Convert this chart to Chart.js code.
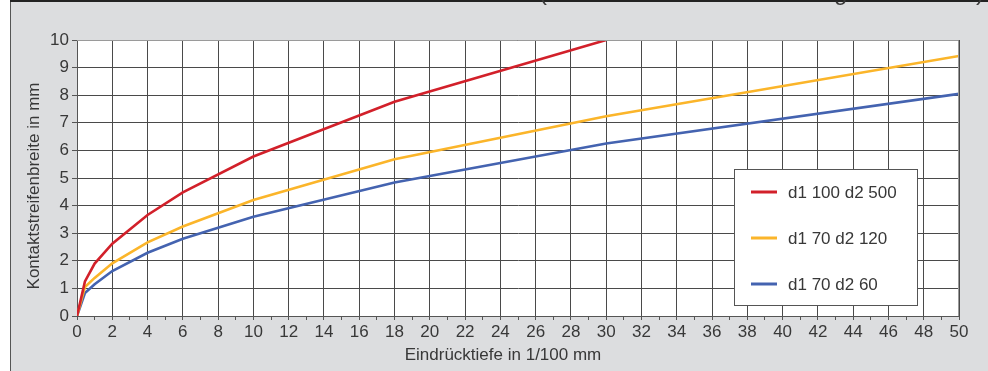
<!DOCTYPE html>
<html lang="de">
<head>
<meta charset="UTF-8">
<title>Kontaktstreifenbreite</title>
<script src="https://cdn.jsdelivr.net/npm/chart.js"></script>
<style>
  html, body { margin: 0; padding: 0; background: #fff; }
  #wrap { width: 988px; height: 371px; }
</style>
</head>
<body>
<div id="wrap"><canvas id="chart" width="988" height="371"></canvas></div>
<script>
// Werte
const depth = [0, 0.45, 1, 2, 4, 6, 10, 18, 30, 50];
const widthD100D500 = [0, 1.25, 1.9, 2.62, 3.66, 4.48, 5.78, 7.76, 10.0, null];
const widthD70D120 = [0, 1.05, 1.38, 1.91, 2.67, 3.24, 4.2, 5.68, 7.24, 9.42];
const widthD70D60 = [0, 0.83, 1.15, 1.63, 2.29, 2.8, 3.6, 4.84, 6.25, 8.05];
const seriesNames = ["d1 100 d2 500", "d1 70 d2 120", "d1 70 d2 60"];
const seriesColors = ["#d2202a", "#fbb52a", "#4463b0"];
const xTitle = "Eindrücktiefe in 1/100 mm";
const yTitle = "Kontaktstreifenbreite in mm";

const textColor = "#383838";
const font = "'Liberation Sans', Arial, sans-serif";

function punkte(werte) {
    return depth.map((x, i) => ({ x: x, y: werte[i] }));
}

// Hintergrund, Rahmen, Achsentitel und Legende selbst zeichnen
const rahmenPlugin = {
    id: "rahmen",
    beforeDraw(chart) {
        const c = chart.ctx;
        const a = chart.chartArea;
        c.save();
        c.fillStyle = "#dcdddf";
        c.fillRect(10, 0, chart.width - 10, chart.height);
        c.fillStyle = "#ffffff";
        c.fillRect(a.left, a.top, a.right - a.left, a.bottom - a.top);
        c.fillStyle = "#555";
        c.fillRect(10, 0, 1, chart.height);
        c.fillStyle = "#222";
        c.fillRect(10, 0, chart.width - 10, 2);
        // abgeschnittener Titel oben
        c.fillStyle = textColor;
        c.font = "24px " + font;
        c.textBaseline = "alphabetic";
        c.fillText("(", 539, 0);
        c.fillText("g", 834, 0);
        c.fillText(")", 976, 0);
        c.restore();
    },
    afterDraw(chart) {
        const c = chart.ctx;
        const a = chart.chartArea;
        c.save();
        c.strokeStyle = "#9a9a9a";
        c.lineWidth = 1;
        c.beginPath();
        c.moveTo(a.left, a.top + 0.5);
        c.lineTo(a.right - 0.5, a.top + 0.5);
        c.lineTo(a.right - 0.5, a.bottom);
        c.stroke();

        // Achsentitel
        c.fillStyle = textColor;
        c.font = "17px " + font;
        c.textAlign = "center";
        c.textBaseline = "middle";
        c.fillText(xTitle, 503, 355);
        c.save();
        c.translate(34, 186);
        c.rotate(-Math.PI / 2);
        c.fillText(yTitle, 0, 0);
        c.restore();

        // Legende
        c.textAlign = "left";
        const x0 = 734, y0 = 169, w = 183, h = 136;
        c.fillStyle = "#fff";
        c.fillRect(x0, y0, w, h);
        c.strokeStyle = "#555";
        c.lineWidth = 1;
        c.strokeRect(x0 + 0.5, y0 + 0.5, w, h);
        const rows = [192, 238, 284];
        chart.data.datasets.forEach((ds, i) => {
            c.strokeStyle = ds.borderColor;
            c.lineWidth = 3;
            c.beginPath();
            c.moveTo(751, rows[i]);
            c.lineTo(777, rows[i]);
            c.stroke();
            c.fillStyle = textColor;
            c.font = "17px " + font;
            c.textBaseline = "middle";
            c.fillText(ds.label, 788, rows[i] + 1);
        });
        c.restore();
    }
};

new Chart(document.getElementById("chart"), {
    type: "line",
    data: {
        datasets: [
            { label: seriesNames[0], data: punkte(widthD100D500), borderColor: seriesColors[0] },
            { label: seriesNames[1], data: punkte(widthD70D120), borderColor: seriesColors[1] },
            { label: seriesNames[2], data: punkte(widthD70D60), borderColor: seriesColors[2] }
        ].map(ds => Object.assign(ds, {
            borderWidth: 2.6,
            pointRadius: 0,
            tension: 0,
            fill: false,
            spanGaps: false
        }))
    },
    options: {
        responsive: false,
        animation: false,
        layout: { padding: { left: 11, right: 29, top: 40, bottom: 0 } },
        plugins: {
            legend: { display: false },
            tooltip: { enabled: false }
        },
        scales: {
            x: {
                type: "linear",
                min: 0,
                max: 50,
                afterFit(s) { s.height = 55; },
                ticks: {
                    stepSize: 1,
                    autoSkip: false,
                    maxRotation: 0,
                    padding: 2,
                    color: textColor,
                    font: { family: font, size: 17 },
                    callback: v => (v % 2 === 0 ? String(v) : "")
                },
                grid: {
                    color: ctx => (ctx.tick && ctx.tick.value % 2 === 0 ? "#4a4a4a" : "rgba(0,0,0,0)"),
                    tickColor: "#555",
                    tickLength: 4,
                    tickBorderDash: [],
                    borderDash: [1, 1]
                },
                border: { color: "#555", width: 1 },
                title: { display: false }
            },
            y: {
                min: 0,
                max: 10,
                afterFit(s) { s.width = 66; },
                ticks: {
                    stepSize: 1,
                    padding: 3,
                    color: textColor,
                    font: { family: font, size: 17 }
                },
                grid: {
                    color: "#4a4a4a",
                    tickColor: "#555",
                    tickLength: 5,
                    tickBorderDash: [],
                    borderDash: [1, 1]
                },
                border: { color: "#555", width: 1 },
                title: { display: false }
            }
        }
    },
    plugins: [rahmenPlugin]
});
</script>
</body>
</html>
